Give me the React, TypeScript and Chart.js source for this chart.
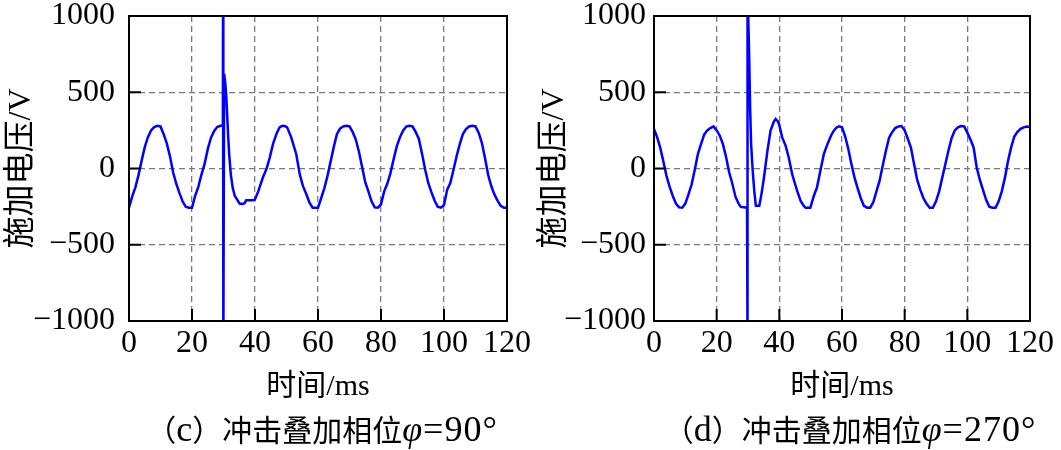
import React, { useEffect, useRef } from "react";
import { Chart, registerables } from "chart.js";

Chart.register(...registerables);

// ---- Data ----
const xTicks = [0, 20, 40, 60, 80, 100, 120];
const yTicks = [-1000, -500, 0, 500, 1000];

// (c) φ = 90°
const timeC = [
  0, 1, 2, 3, 4, 5, 6, 7, 8, 9, 10, 11, 12, 13, 14, 15, 16, 17, 18, 19,
  20, 21, 22, 23, 24, 25, 26, 27, 28, 29, 29.8, 29.85, 29.95, 30.2, 30.6, 30.9,
  31.2, 31.5, 31.8, 32.3, 32.9, 33.6, 34.6, 35.1, 36, 36.7, 37.2, 38, 39, 39.9,
  40.9, 41.5, 42.5, 43.6, 44.7, 45.7, 46.8, 47.8, 48.5, 49.5, 50.2, 51.5, 53.1,
  54.2, 55.2, 56.3, 57.3, 58.3, 60, 61, 62, 63, 64, 65, 66, 67, 68, 69, 70, 71,
  72, 73, 74, 75, 76, 77, 78, 79, 80, 81, 82, 83, 84, 85, 86, 87, 88, 89, 90,
  91, 92, 93, 94, 95, 96, 97, 98, 99, 100, 101, 102, 103, 104, 105, 106, 107,
  108, 109, 110, 111, 112, 113, 114, 115, 116, 117, 118, 119, 120,
];
const voltC = [
  -257, -185, -125, -45, 50, 140, 205, 250, 272, 280, 276, 225, 165, 80, -25,
  -100, -160, -215, -250, -257, -257, -180, -120, -40, 30, 127, 200, 245, 272,
  280, 281, 1200, -1200, 621, 555, 467, 335, 204, 96, -35, -125, -180, -212,
  -230, -232, -228, -208, -208, -208, -206, -158, -120, -59, -5, 72, 160, 226,
  270, 278, 278, 270, 204, 94, -37, -114, -169, -224, -257, -257, -195, -130,
  -50, 45, 140, 225, 262, 276, 280, 276, 240, 190, 110, 10, -90, -150, -215,
  -255, -257, -235, -150, -100, -30, 60, 145, 204, 248, 275, 280, 276, 240, 195,
  100, -5, -95, -155, -210, -250, -257, -240, -140, -95, -10, 80, 160, 226, 258,
  276, 280, 276, 235, 170, 70, -40, -115, -170, -210, -245, -257, -257,
];

// (d) φ = 270°
const timeD = [
  0, 1, 2, 3, 4, 5, 6, 7, 8, 9, 10, 11, 12, 13, 14, 15, 16, 17, 18, 19, 20, 21,
  22, 23, 24, 25, 26, 27, 27.7, 29.7, 29.8, 29.9, 30.4, 30.7, 31, 31.5, 32,
  32.5, 33.6, 34.3, 35.1, 36.2, 37.2, 38.2, 38.8, 39.5, 39.9, 40.9, 42, 43,
  44.1, 45, 45.7, 46.8, 47.8, 48.4, 49.9, 51, 52, 53.1, 54.2, 55, 55.8, 56.6,
  57.4, 58.2, 59, 60, 61, 62, 63, 64, 65, 66, 67, 68, 69, 70, 71, 72, 73, 74,
  75, 76, 77, 78, 79, 80, 81, 82, 83, 84, 85, 86, 87, 88, 89, 90, 91, 92, 93,
  94, 95, 96, 97, 98, 99, 100, 101, 102, 103, 104, 105, 106, 107, 108, 109,
  110, 111, 112, 113, 114, 115, 116, 117, 118, 119, 120,
];
const voltD = [
  259, 205, 135, 45, -50, -120, -180, -230, -255, -257, -230, -170, -105, -10,
  94, 160, 222, 250, 265, 276, 250, 215, 160, 75, -26, -100, -185, -230, -252,
  -257, -1200, 1200, 709, 380, 160, -15, -147, -245, -245, -168, -59, 116, 248,
  305, 325, 310, 292, 204, 150, 72, -37, -100, -147, -213, -246, -257, -257,
  -180, -125, -15, 94, 140, 182, 220, 248, 268, 276, 270, 210, 130, 30, -60,
  -130, -195, -245, -257, -257, -220, -150, -80, 20, 115, 200, 238, 265, 276,
  278, 250, 195, 138, 29, -75, -140, -195, -232, -257, -257, -215, -150, -60,
  30, 120, 200, 250, 270, 278, 276, 235, 190, 138, 7, -75, -140, -205, -250,
  -257, -257, -215, -150, -60, 50, 140, 210, 240, 260, 270, 275, 272,
];

const LATIN = "'Liberation Serif', 'Times New Roman', serif";
const MIXED = "'Liberation Serif', 'Noto Sans CJK SC', serif";

const frameTicks = {
  id: "frameTicks",
  afterDatasetsDraw(chart: any) {
    const { ctx, chartArea, scales } = chart;
    const { left, right, top, bottom } = chartArea;
    ctx.save();
    ctx.strokeStyle = "#000";
    ctx.lineWidth = 2;
    ctx.beginPath();
    for (const v of yTicks) {
      const py = scales.y.getPixelForValue(v);
      ctx.moveTo(left, py);
      ctx.lineTo(left + 12, py);
    }
    for (const v of xTicks) {
      const px = scales.x.getPixelForValue(v);
      ctx.moveTo(px, bottom);
      ctx.lineTo(px, bottom - 12);
    }
    ctx.stroke();
    ctx.strokeRect(left, top, right - left, bottom - top);
    ctx.restore();
  },
};

function fmt(v: number) {
  return v < 0 ? "\u2212" + Math.abs(v) : String(v);
}

function makeConfig(
  times: number[],
  volts: number[],
  padRight: number,
  yTickPad: number,
  yTitlePad: number
): any {
  return {
    type: "line",
    data: {
      datasets: [
        {
          data: times.map((t, i) => ({ x: t, y: volts[i] })),
          borderColor: "#0000FF",
          borderWidth: 2.5,
          pointRadius: 0,
          tension: 0,
          fill: false,
        },
      ],
    },
    options: {
      animation: false,
      responsive: false,
      maintainAspectRatio: false,
      layout: { padding: { top: 0, right: padRight, bottom: 0, left: 0 } },
      plugins: { legend: { display: false }, tooltip: { enabled: false } },
      scales: {
        x: {
          type: "linear",
          min: 0,
          max: 120,
          afterBuildTicks: (s: any) => {
            s.ticks = xTicks.map((v) => ({ value: v }));
          },
          ticks: {
            color: "#000",
            padding: 7,
            maxRotation: 0,
            autoSkip: false,
            font: { family: LATIN, size: 32, lineHeight: 1 },
            callback: (v: number) => fmt(v),
          },
          grid: { color: "#7a7a7a", lineWidth: 1.3, drawTicks: false },
          border: { display: false, dash: [6, 4] },
          title: {
            display: true,
            text: "时间/ms",
            color: "#000",
            font: { family: MIXED, size: 30, lineHeight: 1 },
            padding: { top: 0, bottom: 48 },
          },
          afterFit: (s: any) => {
            s.height = 129;
            s.paddingTop = 0;
            s.paddingBottom = 0;
          },
        },
        y: {
          type: "linear",
          min: -1000,
          max: 1000,
          afterBuildTicks: (s: any) => {
            s.ticks = yTicks.map((v) => ({ value: v }));
          },
          ticks: {
            color: "#000",
            padding: yTickPad,
            font: { family: LATIN, size: 32, lineHeight: 1 },
            callback: (v: number) => fmt(v),
          },
          grid: { color: "#7a7a7a", lineWidth: 1.3, drawTicks: false },
          border: { display: false, dash: [6, 4] },
          title: {
            display: true,
            text: "施加电压/V",
            color: "#000",
            font: { family: MIXED, size: 32, lineHeight: 1 },
            padding: { top: yTitlePad, bottom: 0 },
          },
          afterFit: (s: any) => {
            s.width = 129;
            s.paddingTop = 16;
            s.paddingBottom = 0;
          },
        },
      },
    },
    plugins: [frameTicks],
  };
}

function Panel(props: {
  left: number;
  width: number;
  times: number[];
  volts: number[];
  padRight: number;
  yTickPad: number;
  yTitlePad: number;
}) {
  const ref = useRef<HTMLCanvasElement | null>(null);
  useEffect(() => {
    if (!ref.current) return;
    const chart = new Chart(
      ref.current,
      makeConfig(props.times, props.volts, props.padRight, props.yTickPad, props.yTitlePad)
    );
    return () => chart.destroy();
  }, []);
  return (
    <div
      style={{
        position: "absolute",
        left: props.left,
        top: 0,
        width: props.width,
        height: 450,
      }}
    >
      <canvas ref={ref} width={props.width} height={450} style={{ width: props.width, height: 450 }} />
    </div>
  );
}

function Caption(props: { cx: number; label: string; deg: string }) {
  return (
    <div
      style={{
        position: "absolute",
        left: props.cx - 260,
        top: 408,
        width: 520,
        height: 40,
        lineHeight: "40px",
        textAlign: "center",
        whiteSpace: "nowrap",
        color: "#000",
        fontFamily: "'Noto Sans CJK SC', sans-serif",
        fontSize: 30,
      }}
    >
      （<span style={{ fontFamily: LATIN, fontSize: 36 }}>{props.label}</span>）冲击叠加相位
      <span style={{ fontFamily: LATIN, fontSize: 36, letterSpacing: 1 }}>
        <i>φ</i>={props.deg}°
      </span>
    </div>
  );
}

export default function App() {
  return (
    <div
      style={{
        position: "absolute",
        left: 0,
        top: 0,
        width: 1061,
        height: 450,
        background: "#fff",
        overflow: "hidden",
      }}
    >
      <Panel left={0} width={540} times={timeC} volts={voltC} padRight={33} yTickPad={14} yTitlePad={6} />
      <Panel left={525} width={536} times={timeD} volts={voltD} padRight={29} yTickPad={8} yTitlePad={14} />
      <Caption cx={322} label="c" deg="90" />
      <Caption cx={850} label="d" deg="270" />
    </div>
  );
}
